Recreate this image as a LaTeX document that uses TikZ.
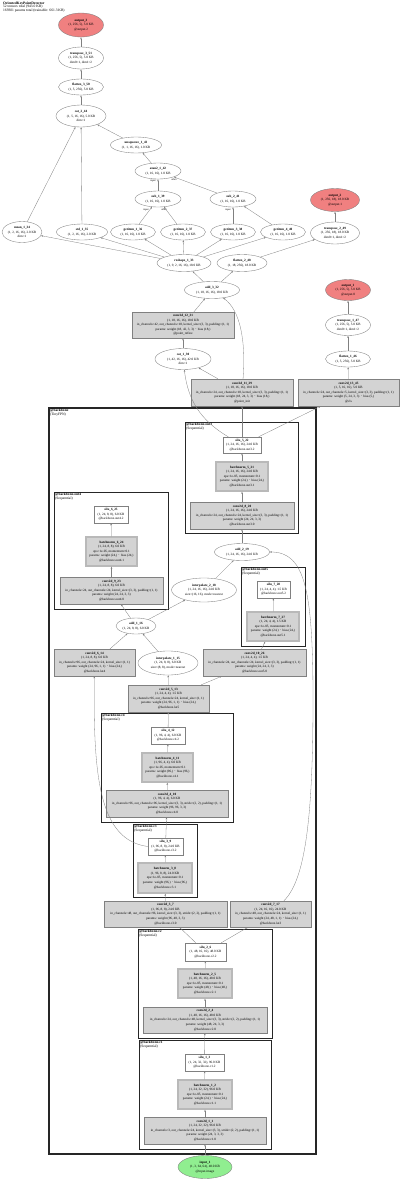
\documentclass[tikz,border=0pt]{standalone}
\usepackage{fontspec}
\setmainfont{Liberation Serif}
\usetikzlibrary{shapes.geometric,arrows.meta}

\definecolor{outred}{HTML}{F08080}
\definecolor{ingreen}{HTML}{90EE90}
\definecolor{modgray}{HTML}{D3D3D3}
\definecolor{linegray}{HTML}{808080}

\newcommand{\gvtext}{\fontsize{3.3}{4.6}\selectfont}
\newcommand{\gvlab}{\fontsize{3.6}{3.8}\selectfont}

\tikzset{
  tens/.style={ellipse, draw=linegray, fill=white, inner sep=0pt, align=center, font=\gvtext, line width=0.35pt},
  outp/.style={tens, fill=outred},
  inp/.style={tens, fill=ingreen},
  mod/.style={rectangle, draw=linegray, fill=modgray, inner sep=0pt, align=center, font=\gvtext, line width=0.35pt},
  bnmod/.style={mod, draw=gray!55, line width=1.4pt},
  act/.style={mod, fill=white},
  grp/.style={draw=black!85, line width=0.9pt},
  grplab/.style={anchor=north west, align=left, inner sep=1pt, font=\gvlab},
  flow/.style={draw=linegray, line width=0.3pt, -{Stealth[length=2.2pt,width=1.6pt]}},
  elab/.style={font=\fontsize{2.6}{3}\selectfont, inner sep=0pt},
}

\begin{document}
\begin{tikzpicture}[x=1pt,y=-1pt]
\useasboundingbox[fill=white] (0,0) rectangle (400,1181);
\node[anchor=north west, align=left, inner sep=0pt, font=\gvlab] (title) at (3,1.5) {\textbf{OrientedKeyPointDetector}\\52 tensors total (943.0 KB)\\169301 params total (trainable: 661.3 KB)};

\draw[grp, line width=1.2pt] (49,408) rectangle (316,1154);
\node[grplab] (lbackbone) at (49,408) {\textbf{@backbone}\\(TinyFPN)};
\draw[grp] (185,422) rectangle (298,533);
\node[grplab] (lout3) at (185,422) {\textbf{@backbone.out3}\\(Sequential)};
\draw[grp] (54,492) rectangle (168,609);
\node[grplab] (lout4) at (54,492) {\textbf{@backbone.out4}\\(Sequential)};
\draw[grp] (241,567) rectangle (305,646);
\node[grplab] (lout5) at (241,567) {\textbf{@backbone.out5}\\(Sequential)};
\draw[grp] (101,713) rectangle (233,822);
\node[grplab] (lcf) at (101,713) {\textbf{@backbone.c4}\\(Sequential)};
\draw[grp] (133,824) rectangle (197,897);
\node[grplab] (lct) at (133,824) {\textbf{@backbone.c3}\\(Sequential)};
\draw[grp] (138,929) rectangle (272,1038);
\node[grplab] (lcb) at (138,929) {\textbf{@backbone.c2}\\(Sequential)};
\draw[grp] (139,1040) rectangle (271,1149);
\node[grplab] (lca) at (139,1040) {\textbf{@backbone.c1}\\(Sequential)};

\node[outp, minimum width=45, minimum height=24] (out3) at (81,25) {\textbf{output\_3}\\(1, 256, 5), 5.0 KB\\@output.2};
\node[tens, minimum width=45, minimum height=22] (tr351) at (81,58) {\textbf{transpose\_3\_51}\\(1, 256, 5), 5.0 KB\\dim0=1, dim1=2};
\node[tens, minimum width=45, minimum height=16] (fl350) at (81,87) {\textbf{flatten\_3\_50}\\(1, 5, 256), 5.0 KB};
\node[tens, minimum width=50, minimum height=22] (cat244) at (81,116) {\textbf{cat\_2\_44}\\(1, 5, 16, 16), 5.0 KB\\dim=1};
\node[tens, minimum width=51, minimum height=16] (unsq143) at (136,145) {\textbf{unsqueeze\_1\_43}\\(1, 1, 16, 16), 1.0 KB};
\node[tens, minimum width=46, minimum height=16] (atan142) at (158,171) {\textbf{atan2\_1\_42}\\(1, 16, 16), 1.0 KB};
\node[tens, minimum width=46, minimum height=16] (sub139) at (158,199) {\textbf{sub\_1\_39}\\(1, 16, 16), 1.0 KB};
\node[tens, minimum width=46, minimum height=16] (sub241) at (233,199) {\textbf{sub\_2\_41}\\(1, 16, 16), 1.0 KB};
\node[outp, minimum width=49, minimum height=23] (out2) at (335,200) {\textbf{output\_2}\\(1, 256, 18), 18.0 KB\\@output.1};
\node[tens, minimum width=40, minimum height=21] (mean134) at (22,232) {\textbf{mean\_1\_34}\\(1, 2, 16, 16), 2.0 KB\\dim=1};
\node[tens, minimum width=51, minimum height=16] (std135) at (82,232) {\textbf{std\_1\_35}\\(1, 2, 16, 16), 2.0 KB};
\node[tens, minimum width=45, minimum height=16] (gi136) at (133,232) {\textbf{getitem\_1\_36}\\(1, 16, 16), 1.0 KB};
\node[tens, minimum width=45, minimum height=16] (gi237) at (183,232) {\textbf{getitem\_2\_37}\\(1, 16, 16), 1.0 KB};
\node[tens, minimum width=45, minimum height=16] (gi338) at (233,232) {\textbf{getitem\_3\_38}\\(1, 16, 16), 1.0 KB};
\node[tens, minimum width=45, minimum height=16] (gi440) at (283,232) {\textbf{getitem\_4\_40}\\(1, 16, 16), 1.0 KB};
\node[tens, minimum width=49, minimum height=22] (tr249) at (335,233) {\textbf{transpose\_2\_49}\\(1, 256, 18), 18.0 KB\\dim0=1, dim1=2};
\node[tens, minimum width=54, minimum height=17] (resh133) at (184,263) {\textbf{reshape\_1\_33}\\(1, 9, 2, 16, 16), 18.0 KB};
\node[tens, minimum width=50, minimum height=17] (fl248) at (242,263) {\textbf{flatten\_2\_48}\\(1, 18, 256), 18.0 KB};
\node[tens, minimum width=55, minimum height=17] (add332) at (212,290) {\textbf{add\_3\_32}\\(1, 18, 16, 16), 18.0 KB};
\node[outp, minimum width=45, minimum height=21] (out1) at (348,290) {\textbf{output\_1}\\(1, 256, 5), 5.0 KB\\@output.0};
\node[mod, minimum width=102, minimum height=26] (conv1231) at (183,325) {\textbf{conv2d\_12\_31}\\(1, 18, 16, 16), 18.0 KB\\in\_channels=42, out\_channels=18, kernel\_size=(3, 3), padding=(1, 1)\\params: weight (18, 42, 3, 3) $\cdot$ bias (18,)\\@point\_refine};
\node[tens, minimum width=45, minimum height=21] (tr147) at (348,325) {\textbf{transpose\_1\_47}\\(1, 256, 5), 5.0 KB\\dim0=1, dim1=2};
\node[tens, minimum width=56, minimum height=21] (cat130) at (183,359) {\textbf{cat\_1\_30}\\(1, 42, 16, 16), 42.0 KB\\dim=1};
\node[tens, minimum width=45, minimum height=16] (fl146) at (348,359) {\textbf{flatten\_1\_46}\\(1, 5, 256), 5.0 KB};
\node[mod, minimum width=102, minimum height=27] (conv1129) at (242,392.5) {\textbf{conv2d\_11\_29}\\(1, 18, 16, 16), 18.0 KB\\in\_channels=24, out\_channels=18, kernel\_size=(3, 3), padding=(1, 1)\\params: weight (18, 24, 3, 3) $\cdot$ bias (18,)\\@point\_init};
\node[mod, minimum width=101, minimum height=27] (conv1345) at (348.5,392.5) {\textbf{conv2d\_13\_45}\\(1, 5, 16, 16), 5.0 KB\\in\_channels=24, out\_channels=5, kernel\_size=(3, 3), padding=(1, 1)\\params: weight (5, 24, 3, 3) $\cdot$ bias (5,)\\@cls};

\node[act, minimum width=38, minimum height=16] (silu522) at (242,445) {\textbf{silu\_5\_22}\\(1, 24, 16, 16), 24.0 KB\\@backbone.out3.2};
\node[bnmod, minimum width=52, minimum height=29] (bn521) at (242,476.5) {\textbf{batchnorm\_5\_21}\\(1, 24, 16, 16), 24.0 KB\\eps=1e-05, momentum=0.1\\params: weight (24,) $\cdot$ bias (24,)\\@backbone.out3.1};
\node[mod, minimum width=104, minimum height=27] (conv820) at (242,515.5) {\textbf{conv2d\_8\_20}\\(1, 24, 16, 16), 24.0 KB\\in\_channels=24, out\_channels=24, kernel\_size=(3, 3), padding=(1, 1)\\params: weight (24, 24, 3, 3)\\@backbone.out3.0};
\node[act, minimum width=34, minimum height=17] (silu625) at (111,514.5) {\textbf{silu\_6\_25}\\(1, 24, 8, 8), 6.0 KB\\@backbone.out4.2};
\node[bnmod, minimum width=51, minimum height=29] (bn624) at (111.5,551.5) {\textbf{batchnorm\_6\_24}\\(1, 24, 8, 8), 6.0 KB\\eps=1e-05, momentum=0.1\\params: weight (24,) $\cdot$ bias (24,)\\@backbone.out4.1};
\node[mod, minimum width=103, minimum height=27] (conv923) at (111.5,590.5) {\textbf{conv2d\_9\_23}\\(1, 24, 8, 8), 6.0 KB\\in\_channels=24, out\_channels=24, kernel\_size=(3, 3), padding=(1, 1)\\params: weight (24, 24, 3, 3)\\@backbone.out4.0};
\node[tens, minimum width=55, minimum height=17] (add219) at (242,552) {\textbf{add\_2\_19}\\(1, 24, 16, 16), 24.0 KB};
\node[tens, minimum width=65, minimum height=24] (intp218) at (204,590) {\textbf{interpolate\_2\_18}\\(1, 24, 16, 16), 24.0 KB\\size=(16, 16), mode=nearest};
\node[act, minimum width=33, minimum height=17] (silu728) at (273.5,589.5) {\textbf{silu\_7\_28}\\(1, 24, 4, 4), 1.5 KB\\@backbone.out5.2};
\node[bnmod, minimum width=52, minimum height=29] (bn727) at (273,626.5) {\textbf{batchnorm\_7\_27}\\(1, 24, 4, 4), 1.5 KB\\eps=1e-05, momentum=0.1\\params: weight (24,) $\cdot$ bias (24,)\\@backbone.out5.1};
\node[tens, minimum width=40, minimum height=16] (add116) at (136,626) {\textbf{add\_1\_16}\\(1, 24, 8, 8), 6.0 KB};
\node[mod, minimum width=81, minimum height=27] (conv614) at (94.5,662.5) {\textbf{conv2d\_6\_14}\\(1, 24, 8, 8), 6.0 KB\\in\_channels=96, out\_channels=24, kernel\_size=(1, 1)\\params: weight (24, 96, 1, 1) $\cdot$ bias (24,)\\@backbone.lat4};
\node[tens, minimum width=60, minimum height=24] (intp115) at (168,663) {\textbf{interpolate\_1\_15}\\(1, 24, 8, 8), 6.0 KB\\size=(8, 8), mode=nearest};
\node[mod, minimum width=103, minimum height=27] (conv1026) at (254.5,662.5) {\textbf{conv2d\_10\_26}\\(1, 24, 4, 4), 1.5 KB\\in\_channels=24, out\_channels=24, kernel\_size=(3, 3), padding=(1, 1)\\params: weight (24, 24, 3, 3)\\@backbone.out5.0};
\node[mod, minimum width=81, minimum height=27] (conv513) at (168.5,698.5) {\textbf{conv2d\_5\_13}\\(1, 24, 4, 4), 1.5 KB\\in\_channels=96, out\_channels=24, kernel\_size=(1, 1)\\params: weight (24, 96, 1, 1) $\cdot$ bias (24,)\\@backbone.lat5};

\node[act, minimum width=34, minimum height=17] (silu412) at (168,735.5) {\textbf{silu\_4\_12}\\(1, 96, 4, 4), 6.0 KB\\@backbone.c4.2};
\node[bnmod, minimum width=51, minimum height=29] (bn411) at (167.5,767.5) {\textbf{batchnorm\_4\_11}\\(1, 96, 4, 4), 6.0 KB\\eps=1e-05, momentum=0.1\\params: weight (96,) $\cdot$ bias (96,)\\@backbone.c4.1};
\node[mod, minimum width=122, minimum height=27] (conv410) at (167,803.5) {\textbf{conv2d\_4\_10}\\(1, 96, 4, 4), 6.0 KB\\in\_channels=96, out\_channels=96, kernel\_size=(3, 3), stride=(2, 2), padding=(1, 1)\\params: weight (96, 96, 3, 3)\\@backbone.c4.0};
\node[act, minimum width=35, minimum height=17] (silu39) at (165.5,846.5) {\textbf{silu\_3\_9}\\(1, 96, 8, 8), 24.0 KB\\@backbone.c3.2};
\node[bnmod, minimum width=54, minimum height=30] (bn38) at (165,878) {\textbf{batchnorm\_3\_8}\\(1, 96, 8, 8), 24.0 KB\\eps=1e-05, momentum=0.1\\params: weight (96,) $\cdot$ bias (96,)\\@backbone.c3.1};
\node[mod, minimum width=123, minimum height=26] (conv37) at (165.5,914) {\textbf{conv2d\_3\_7}\\(1, 96, 8, 8), 24.0 KB\\in\_channels=48, out\_channels=96, kernel\_size=(3, 3), stride=(2, 2), padding=(1, 1)\\params: weight (96, 48, 3, 3)\\@backbone.c3.0};
\node[mod, minimum width=81, minimum height=26] (conv717) at (270.5,914) {\textbf{conv2d\_7\_17}\\(1, 24, 16, 16), 24.0 KB\\in\_channels=48, out\_channels=24, kernel\_size=(1, 1)\\params: weight (24, 48, 1, 1) $\cdot$ bias (24,)\\@backbone.lat3};
\node[act, minimum width=41, minimum height=18] (silu26) at (205.5,952) {\textbf{silu\_2\_6}\\(1, 48, 16, 16), 48.0 KB\\@backbone.c2.2};
\node[bnmod, minimum width=54, minimum height=29] (bn25) at (205,983.5) {\textbf{batchnorm\_2\_5}\\(1, 48, 16, 16), 48.0 KB\\eps=1e-05, momentum=0.1\\params: weight (48,) $\cdot$ bias (48,)\\@backbone.c2.1};
\node[mod, minimum width=124, minimum height=26] (conv24) at (205,1020) {\textbf{conv2d\_2\_4}\\(1, 48, 16, 16), 48.0 KB\\in\_channels=24, out\_channels=48, kernel\_size=(3, 3), stride=(2, 2), padding=(1, 1)\\params: weight (48, 24, 3, 3)\\@backbone.c2.0};
\node[act, minimum width=39, minimum height=17] (silu13) at (204.5,1062.5) {\textbf{silu\_1\_3}\\(1, 24, 32, 32), 96.0 KB\\@backbone.c1.2};
\node[bnmod, minimum width=54, minimum height=29] (bn12) at (205,1094.5) {\textbf{batchnorm\_1\_2}\\(1, 24, 32, 32), 96.0 KB\\eps=1e-05, momentum=0.1\\params: weight (24,) $\cdot$ bias (24,)\\@backbone.c1.1};
\node[mod, minimum width=122, minimum height=27] (conv11) at (205,1130.5) {\textbf{conv2d\_1\_1}\\(1, 24, 32, 32), 96.0 KB\\in\_channels=3, out\_channels=24, kernel\_size=(3, 3), stride=(2, 2), padding=(1, 1)\\params: weight (24, 3, 3, 3)\\@backbone.c1.0};
\node[inp, minimum width=54, minimum height=23] (inp1) at (205,1167) {\textbf{input\_1}\\(1, 3, 64, 64), 48.0 KB\\@input.image};

\draw[flow] (inp1) -- (conv11);
\draw[flow] (conv11) -- (bn12);
\draw[flow] (bn12) -- (silu13);
\draw[flow] (silu13) -- (conv24);
\draw[flow] (conv24) -- (bn25);
\draw[flow] (bn25) -- (silu26);
\draw[flow] (silu26) -- (conv37);
\draw[flow] (silu26) -- (conv717);
\draw[flow] (conv37) -- (bn38);
\draw[flow] (bn38) -- (silu39);
\draw[flow] (silu39) -- (conv410);
\draw[flow] (conv410) -- (bn411);
\draw[flow] (bn411) -- (silu412);
\draw[flow] (silu412) -- (conv513);
\draw[flow] (silu39.west) .. controls (100,840) and (93,780) .. (conv614);
\draw[flow] (conv513) -- (intp115);
\draw[flow] (conv513) -- (conv1026);
\draw[flow] (conv614) -- (add116);
\draw[flow] (intp115) -- (add116);
\draw[flow] (add116) -- (conv923);
\draw[flow] (add116) -- (intp218);
\draw[flow] (intp218) -- (add219);
\draw[flow] (conv717) .. controls (305,880) and (313,820) .. (313,700) .. controls (313,590) and (305,552) .. (add219);
\draw[flow] (conv1026) -- (bn727);
\draw[flow] (bn727) -- (silu728);
\draw[flow] (conv923) -- (bn624);
\draw[flow] (bn624) -- (silu625);
\draw[flow] (add219) -- (conv820);
\draw[flow] (conv820) -- (bn521);
\draw[flow] (bn521) -- (silu522);
\draw[flow] (silu522) .. controls (200,420) and (188,400) .. (cat130);
\draw[flow] (silu522) -- (conv1129);
\draw[flow] (silu522) -- (conv1345);
\draw[flow] (conv1129) -- (cat130);
\draw[flow] (cat130) -- (conv1231);
\draw[flow] (conv1231) -- (add332);
\draw[flow] (conv1129) .. controls (246,340) and (240,310) .. (add332);
\draw[flow] (conv1345) -- (fl146);
\draw[flow] (fl146) -- (tr147);
\draw[flow] (tr147) -- (out1);
\draw[flow] (add332) -- (resh133);
\draw[flow] (add332) -- (fl248);
\draw[flow] (fl248) -- (tr249);
\draw[flow] (tr249) -- (out2);
\draw[flow] (resh133) -- (mean134);
\draw[flow] (resh133) -- (std135);
\draw[flow] (resh133) -- (gi136);
\draw[flow] (resh133) -- (gi237);
\draw[flow] (resh133) -- (gi338);
\draw[flow] (resh133) -- (gi440);
\draw[flow] (gi136) -- (sub139);
\draw[flow] (gi237) -- (sub139);
\draw[flow] (gi338) -- (sub241);
\draw[flow] (gi440) -- (sub241);
\draw[flow] (sub139) -- (atan142);
\draw[flow] (sub241) -- (atan142);
\draw[flow] (atan142) -- (unsq143);
\draw[flow] (unsq143) -- (cat244);
\draw[flow] (mean134) -- (cat244);
\draw[flow] (std135) -- (cat244);
\draw[flow] (cat244) -- (fl350);
\draw[flow] (fl350) -- (tr351);
\draw[flow] (tr351) -- (out3);

\node[elab] (lsuba) at (146,210) {input};
\node[elab] (lsubb) at (164,210) {other};
\node[elab] (lsubc) at (228,210) {input};
\node[elab] (latana) at (153,181) {input};
\node[elab] (latanb) at (174,180) {other};
\end{tikzpicture}
\end{document}
